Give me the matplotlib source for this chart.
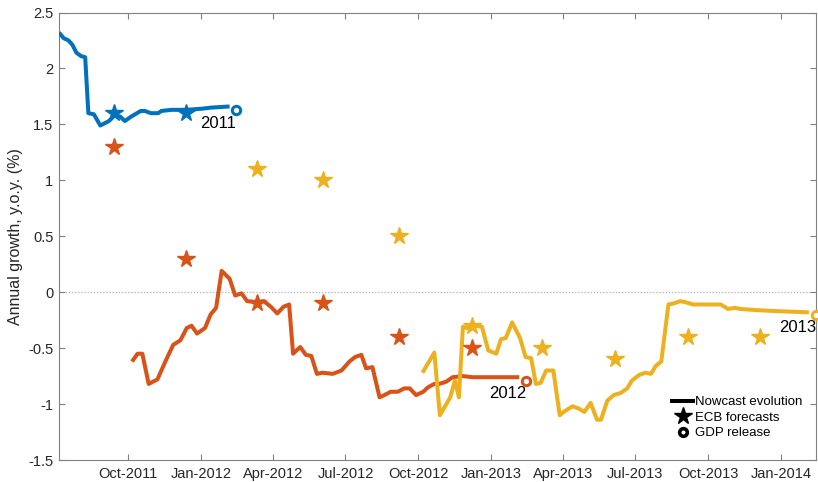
"""
Euro area GDP nowcasts for 2011-2013 against ECB staff projections.
"""

import matplotlib
matplotlib.use("Agg")
import matplotlib.pyplot as plt
import matplotlib.dates as mdates
from matplotlib.lines import Line2D
from matplotlib.ticker import FuncFormatter, MultipleLocator
import pandas as pd

plt.rcParams['font.family'] = ['Liberation Sans', 'DejaVu Sans']
plt.rcParams['axes.unicode_minus'] = False

# Nowcast evolution, one series per target year
dates_2011 = ['2011-07-06', '2011-07-12', '2011-07-18', '2011-07-23', '2011-07-28',
              '2011-08-03', '2011-08-08', '2011-08-12', '2011-08-19', '2011-08-27',
              '2011-09-07', '2011-09-14', '2011-09-21', '2011-09-27', '2011-10-05',
              '2011-10-17', '2011-10-22', '2011-10-30', '2011-11-08', '2011-11-12',
              '2011-11-25', '2011-12-14', '2012-01-02', '2012-01-14', '2012-02-06']
nowcast_2011 = [2.32, 2.27, 2.25, 2.21, 2.14, 2.11, 2.10, 1.60, 1.59, 1.49,
                1.53, 1.58, 1.57, 1.53, 1.57, 1.62, 1.62, 1.60, 1.60, 1.62,
                1.63, 1.63, 1.64, 1.65, 1.66]

dates_2012 = ['2011-10-06', '2011-10-13', '2011-10-19', '2011-10-27', '2011-11-07',
              '2011-11-17', '2011-11-27', '2011-12-06', '2011-12-14', '2011-12-20',
              '2011-12-27', '2012-01-06', '2012-01-13', '2012-01-20', '2012-01-27',
              '2012-02-06', '2012-02-13', '2012-02-21', '2012-02-28', '2012-03-11',
              '2012-03-20', '2012-03-29', '2012-04-06', '2012-04-14', '2012-04-21',
              '2012-04-26', '2012-05-05', '2012-05-12', '2012-05-19', '2012-05-26',
              '2012-06-02', '2012-06-15', '2012-06-26', '2012-07-06', '2012-07-13',
              '2012-07-21', '2012-07-27', '2012-08-04', '2012-08-13', '2012-08-19',
              '2012-08-27', '2012-09-05', '2012-09-13', '2012-09-20', '2012-09-28',
              '2012-10-07', '2012-10-13', '2012-10-21', '2012-10-27', '2012-11-05',
              '2012-11-13', '2012-11-26', '2012-12-08', '2012-12-25', '2013-01-11',
              '2013-02-05']
nowcast_2012 = [-0.62, -0.55, -0.55, -0.82, -0.78, -0.62, -0.47, -0.43, -0.32, -0.30,
                -0.37, -0.32, -0.20, -0.14, 0.19, 0.12, -0.03, -0.01, -0.08, -0.09,
                -0.08, -0.13, -0.19, -0.13, -0.11, -0.55, -0.49, -0.56, -0.57, -0.73,
                -0.72, -0.73, -0.70, -0.62, -0.58, -0.56, -0.68, -0.67, -0.94, -0.92,
                -0.89, -0.89, -0.86, -0.86, -0.92, -0.89, -0.85, -0.82, -0.82, -0.80,
                -0.76, -0.75, -0.76, -0.76, -0.76, -0.76]

dates_2013 = ['2012-10-06', '2012-10-21', '2012-10-28', '2012-11-10', '2012-11-16',
              '2012-11-21', '2012-11-26', '2012-12-05', '2012-12-13', '2012-12-20',
              '2012-12-28', '2013-01-07', '2013-01-13', '2013-01-19', '2013-01-27',
              '2013-02-06', '2013-02-13', '2013-02-20', '2013-02-26', '2013-03-04',
              '2013-03-11', '2013-03-20', '2013-03-28', '2013-04-02', '2013-04-13',
              '2013-04-21', '2013-04-28', '2013-05-06', '2013-05-14', '2013-05-19',
              '2013-05-27', '2013-06-04', '2013-06-13', '2013-06-21', '2013-06-27',
              '2013-07-06', '2013-07-14', '2013-07-21', '2013-07-27', '2013-08-03',
              '2013-08-12', '2013-08-19', '2013-08-27', '2013-09-03', '2013-09-12',
              '2013-09-28', '2013-10-17', '2013-10-26', '2013-11-04', '2013-11-11',
              '2013-11-30', '2013-12-29', '2014-02-05']
nowcast_2013 = [-0.72, -0.54, -1.10, -0.94, -0.79, -0.94, -0.31, -0.33, -0.30, -0.31,
                -0.52, -0.55, -0.42, -0.41, -0.27, -0.41, -0.58, -0.59, -0.82, -0.81,
                -0.70, -0.70, -1.10, -1.07, -1.02, -1.04, -1.07, -0.99, -1.14, -1.14,
                -0.97, -0.92, -0.90, -0.86, -0.79, -0.74, -0.72, -0.73, -0.66, -0.62,
                -0.11, -0.10, -0.08, -0.09, -0.11, -0.11, -0.11, -0.15, -0.14, -0.15,
                -0.16, -0.17, -0.18]

# ECB staff projections (date of publication, forecast for the target year)
ecb_dates_2011 = ['2011-09-13', '2011-12-13']
ecb_2011 = [1.6, 1.6]
ecb_dates_2012 = ['2011-09-13', '2011-12-13', '2012-03-12', '2012-06-03',
                  '2012-09-06', '2012-12-07']
ecb_2012 = [1.3, 0.3, -0.1, -0.1, -0.4, -0.5]
ecb_dates_2013 = ['2012-03-12', '2012-06-03', '2012-09-06', '2012-12-07',
                  '2013-03-06', '2013-06-06', '2013-09-06', '2013-12-05']
ecb_2013 = [1.1, 1.0, 0.5, -0.3, -0.5, -0.6, -0.4, -0.4]

# First GDP release for each year
gdp_dates = ['2012-02-14', '2013-02-14', '2014-02-14']
gdp_values = [1.63, -0.79, -0.20]
years = ['2011', '2012', '2013']

colors = ['#0072BD', '#D95319', '#EDB120']

fig = plt.figure(figsize=(8.18, 4.82), dpi=100)
ax = fig.add_axes([59 / 818, 22 / 482, 757 / 818, 447.5 / 482])

ax.axhline(0, color='#b0b0b0', lw=0.9, ls=(0, (1, 1.5)), zorder=1)

series = [
    (dates_2011, nowcast_2011, ecb_dates_2011, ecb_2011),
    (dates_2012, nowcast_2012, ecb_dates_2012, ecb_2012),
    (dates_2013, nowcast_2013, ecb_dates_2013, ecb_2013),
]
for i, (d, v, ed, ev) in enumerate(series):
    c = colors[i]
    ax.plot(pd.to_datetime(d), v, color=c, lw=2.9, solid_joinstyle='round',
            solid_capstyle='butt', zorder=3)
    ax.plot(pd.to_datetime(ed), ev, ls='none', marker='*', ms=13,
            color=c, mec=c, zorder=4)
    gd = pd.to_datetime(gdp_dates[i])
    ax.plot([gd], [gdp_values[i]], ls='none', marker='o', ms=6, mfc='white',
            mec=c, mew=2.2, zorder=5, clip_on=False)
    ax.text(gd, gdp_values[i] - 0.12, years[i], ha='right', va='center',
            fontsize=12, color='black')

ax.set_xlim(pd.Timestamp('2011-07-06'), pd.Timestamp('2014-02-14'))
ax.set_ylim(-1.5, 2.5)

ax.xaxis.set_major_locator(mdates.MonthLocator(bymonth=[1, 4, 7, 10]))
ax.xaxis.set_major_formatter(mdates.DateFormatter('%b-%Y'))
ax.yaxis.set_major_locator(MultipleLocator(0.5))
ax.yaxis.set_major_formatter(FuncFormatter(lambda v, _: f'{v:g}'))

for s in ax.spines.values():
    s.set_color('#808080')
    s.set_linewidth(0.8)
ax.tick_params(direction='in', length=4, width=0.8, color='#808080',
               labelsize=10.5, labelcolor='#262626', top=True, right=True)
ax.tick_params(axis='x', pad=5)
ax.tick_params(axis='y', pad=4)

ax.set_ylabel('Annual growth, y.o.y. (%)', fontsize=11.5, color='#262626', labelpad=4)

handles = [
    Line2D([], [], color='black', lw=2.9),
    Line2D([], [], ls='none', marker='*', ms=13, color='black'),
    Line2D([], [], ls='none', marker='o', ms=5.5, mfc='white', mec='black', mew=2.6),
]
ax.legend(handles, ['Nowcast evolution', 'ECB forecasts', 'GDP release'],
          loc='upper left', bbox_to_anchor=(672 / 818, 1 - 396 / 482),
          bbox_transform=fig.transFigure, frameon=False, fontsize=9.5,
          handlelength=1.6, handletextpad=0.15, labelspacing=0.25,
          borderpad=0, borderaxespad=0)

fig.savefig('out.png', dpi=100)
